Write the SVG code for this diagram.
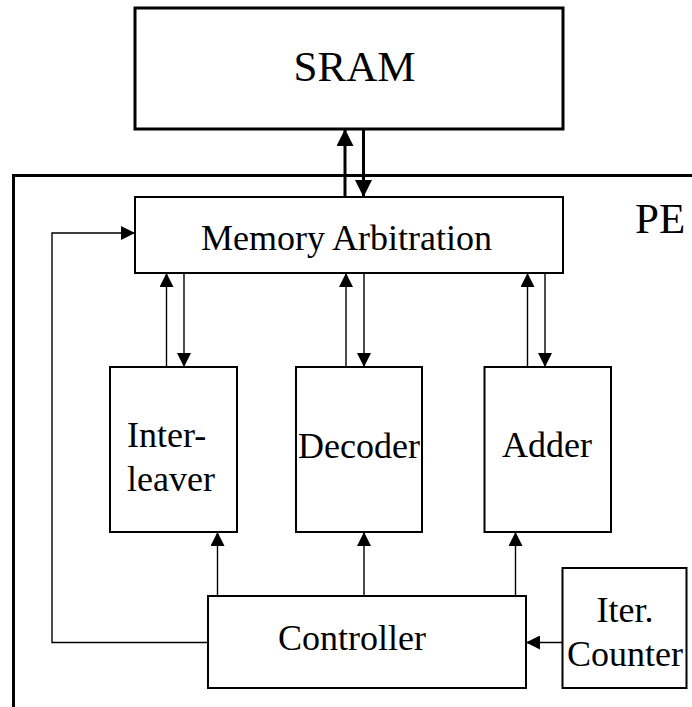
<svg xmlns="http://www.w3.org/2000/svg" width="692" height="707" viewBox="0 0 692 707">
  <style>
    .box { fill: #ffffff; stroke: #000000; stroke-width: 2; }
    .heavy { fill: #ffffff; stroke: #000000; stroke-width: 3; }
    .wire { fill: none; stroke: #000000; stroke-width: 1.4; }
    .bus { fill: none; stroke: #000000; stroke-width: 3; }
    .label { font-family: "Liberation Serif", "Times New Roman", serif; font-size: 36px; fill: #000000; }
    .big { font-family: "Liberation Serif", "Times New Roman", serif; font-size: 43px; fill: #000000; }
  </style>
  <defs>
    <marker id="arrow" markerUnits="userSpaceOnUse" markerWidth="14" markerHeight="14" refX="14" refY="7" orient="auto">
      <path d="M0,0 L14,7 L0,14 z" fill="#000000"/>
    </marker>
    <marker id="arrow-bus" markerUnits="userSpaceOnUse" markerWidth="17" markerHeight="17" refX="17" refY="8.5" orient="auto">
      <path d="M0,0 L17,8.5 L0,17 z" fill="#000000"/>
    </marker>
  </defs>

  <rect width="692" height="707" fill="#ffffff"/>

  <!-- processing element boundary -->
  <g id="pe">
    <path class="bus" d="M13.5,707 V175.5 H692"/>
    <text class="big" x="635" y="233">PE</text>
  </g>

  <g id="sram">
    <rect class="heavy" x="135" y="8" width="428" height="121"/>
    <text class="big" x="354.5" y="81" text-anchor="middle">SRAM</text>
  </g>

  <g id="memory-arbitration">
    <rect class="box" x="135" y="197" width="428" height="76"/>
    <text class="label" x="346.5" y="250" text-anchor="middle">Memory Arbitration</text>
  </g>

  <g id="interleaver">
    <rect class="box" x="110" y="367" width="127" height="165"/>
    <text class="label" x="127" y="447">Inter-</text>
    <text class="label" x="127" y="491">leaver</text>
  </g>

  <g id="decoder">
    <rect class="box" x="296" y="367" width="126" height="165"/>
    <text class="label" x="298" y="458">Decoder</text>
  </g>

  <g id="adder">
    <rect class="box" x="484.5" y="367" width="126.5" height="165"/>
    <text class="label" x="502" y="457">Adder</text>
  </g>

  <g id="controller">
    <rect class="box" x="208" y="596" width="318" height="92"/>
    <text class="label" x="278" y="650">Controller</text>
  </g>

  <g id="iter-counter">
    <rect class="box" x="562.5" y="568" width="124" height="120"/>
    <text class="label" x="596.5" y="621.5">Iter.</text>
    <text class="label" x="567" y="665.5">Counter</text>
  </g>

  <g id="connectors">
    <!-- SRAM bus -->
    <line class="bus" x1="345" y1="197" x2="345" y2="129" marker-end="url(#arrow-bus)"/>
    <line class="bus" x1="363.5" y1="129" x2="363.5" y2="197" marker-end="url(#arrow-bus)"/>
    <!-- controller feedback into arbitration -->
    <polyline class="wire" points="208,642.5 52,642.5 52,233 135,233" marker-end="url(#arrow)"/>
    <!-- arbitration <-> modules -->
    <line class="wire" x1="166.5" y1="367" x2="166.5" y2="273" marker-end="url(#arrow)"/>
    <line class="wire" x1="184" y1="273" x2="184" y2="367" marker-end="url(#arrow)"/>
    <line class="wire" x1="346" y1="367" x2="346" y2="273" marker-end="url(#arrow)"/>
    <line class="wire" x1="364" y1="273" x2="364" y2="367" marker-end="url(#arrow)"/>
    <line class="wire" x1="527.5" y1="367" x2="527.5" y2="273" marker-end="url(#arrow)"/>
    <line class="wire" x1="545" y1="273" x2="545" y2="367" marker-end="url(#arrow)"/>
    <!-- controller -> modules -->
    <line class="wire" x1="217.5" y1="596" x2="217.5" y2="532" marker-end="url(#arrow)"/>
    <line class="wire" x1="364" y1="596" x2="364" y2="532" marker-end="url(#arrow)"/>
    <line class="wire" x1="515.5" y1="596" x2="515.5" y2="532" marker-end="url(#arrow)"/>
    <!-- iteration counter -> controller -->
    <line class="wire" x1="562.5" y1="642.5" x2="526" y2="642.5" marker-end="url(#arrow)"/>
  </g>
</svg>
